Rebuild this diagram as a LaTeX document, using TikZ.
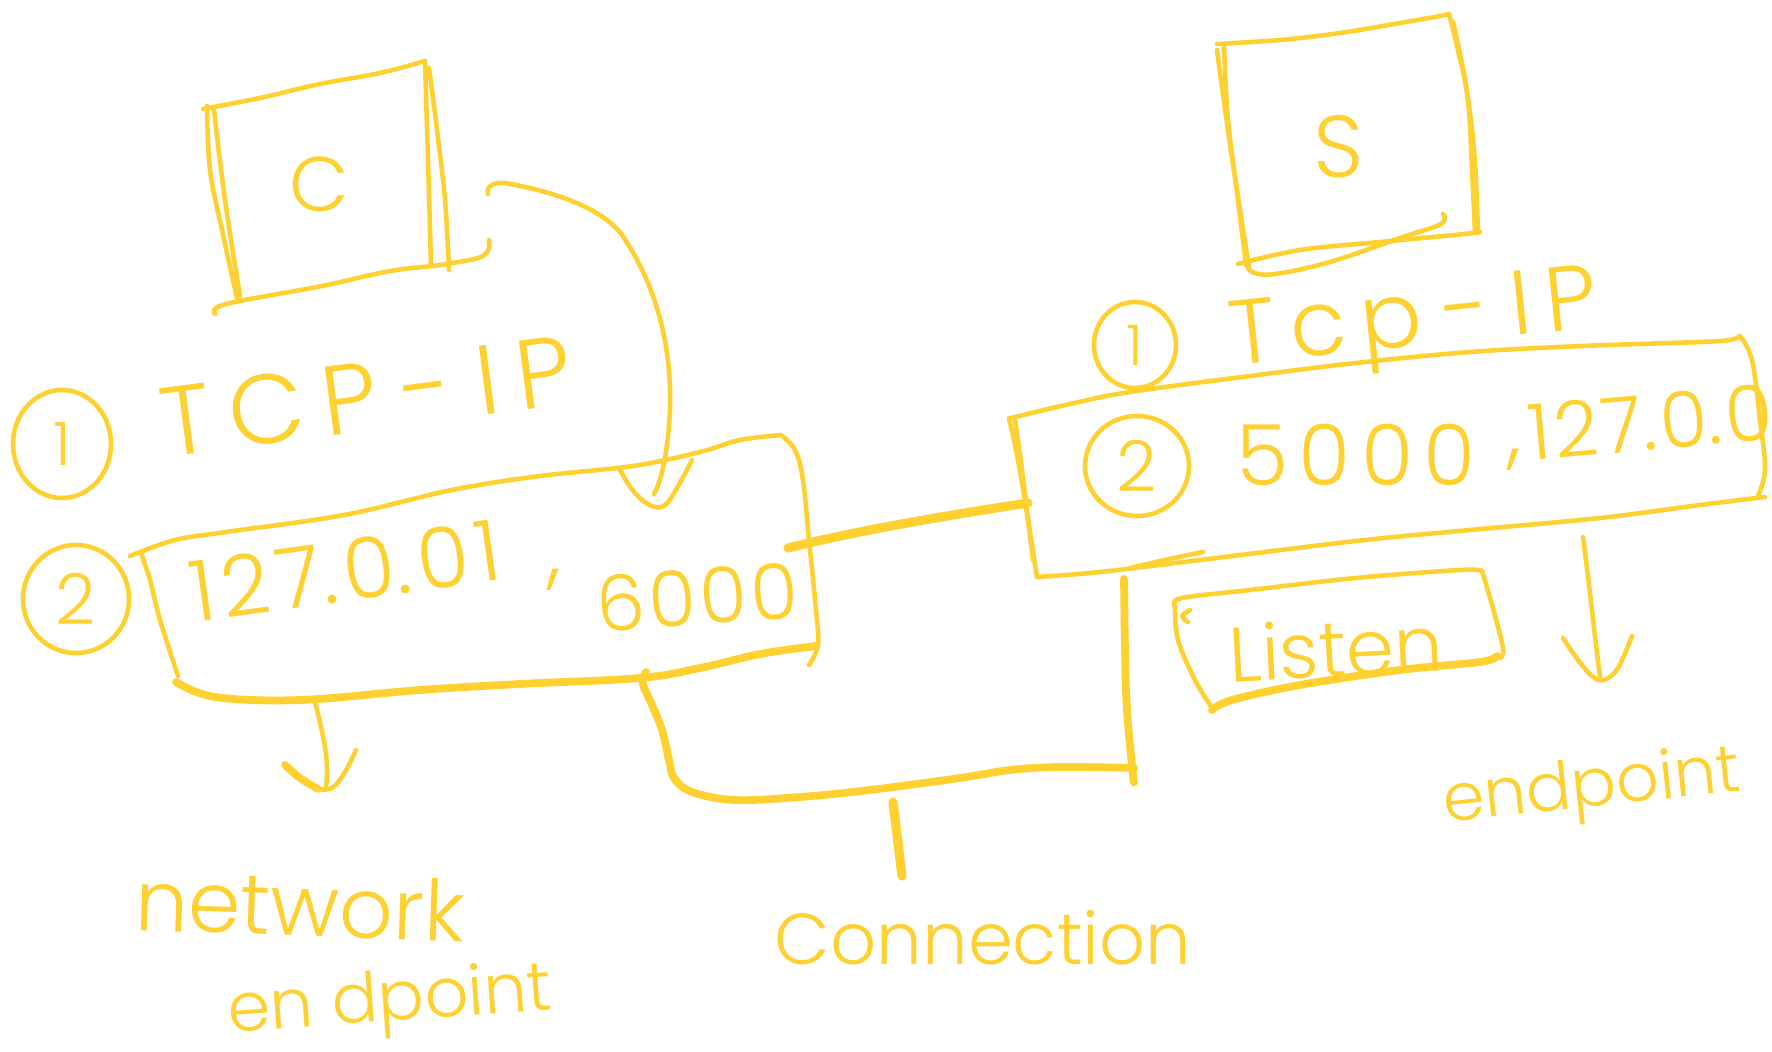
\documentclass[tikz,border=0pt]{standalone}
\usepackage{fontspec}
\IfFontExistsTF{Poppins Light}{\setmainfont{Poppins Light}}{%
  \IfFontExistsTF{FiraSans-Light.otf}{\setmainfont{FiraSans-Light.otf}}{\setmainfont{Lato}}}
\usetikzlibrary{shapes.geometric}
\definecolor{ink}{RGB}{254,208,48}
\newcommand{\penfs}[1]{\fontsize{#1pt}{#1pt}\selectfont}
\newcommand{\gapk}[1]{\kern#1pt}
\begin{document}
\begin{tikzpicture}[x=0.01cm, y=-0.01cm,
  pen/.style={draw=ink, line width=1.3pt, line cap=round, line join=round},
  heavy/.style={pen, line width=2.2pt},
  hand/.style={text=ink, inner sep=0pt, outer sep=0pt},
  numring/.style={pen, ellipse, inner sep=0pt, text=ink},
  sm/.style={smooth, tension=0.6}]
\fill[white] (0,0) rectangle (1772,1052);
\useasboundingbox (0,0) rectangle (1772,1052);

% ---------- client box ----------
\draw[pen] plot[sm] coordinates {(203,109) (260,98) (320,84) (380,73) (425,61)};
\draw[pen] plot[sm] coordinates {(207,106) (210,170) (222,230) (237,298)};
\draw[pen] plot[sm] coordinates {(214,110) (225,200) (240,296)};
\draw[pen] plot[sm] coordinates {(425,61) (428,160) (431,265)};
\draw[pen] plot[sm] coordinates {(429,68) (437,130) (445,200) (449,270)};
\draw[pen] plot[sm] coordinates {(215,314) (226,304) (322,286) (390,271) (440,265) (483,256) (489,240)};
\node[hand, font=\penfs{22}] (cLabel) at (319,184) {C};

% ---------- server box ----------
\draw[pen] plot[sm] coordinates {(1217,44) (1280,40) (1340,33) (1400,23) (1440,16) (1449,14)};
\draw[pen] plot[sm] coordinates {(1217,50) (1228,130) (1240,210) (1249,268)};
\draw[pen] plot[sm] coordinates {(1224,44) (1228,120) (1238,200) (1246,265)};
\draw[pen] plot[sm] coordinates {(1449,14) (1458,50) (1468,100) (1472,170) (1475,232)};
\draw[pen] plot[sm] coordinates {(1453,22) (1465,80) (1474,150) (1478,230)};
\draw[pen] plot[sm] coordinates {(1238,264) (1300,250) (1380,242) (1465,234) (1480,232)};
\draw[pen] plot[sm] coordinates {(1246,262) (1252,272) (1275,274) (1330,262) (1400,238) (1441,224) (1443,214)};
\node[hand, font=\penfs{25}] (sLabel) at (1339,147) {S};

% ---------- client socket ----------
\node[numring, minimum width=0.98cm, minimum height=1.08cm, font=\penfs{17}] (oneL) at (62,444) {1};
\node[hand, rotate=7.5, font=\penfs{28}] (tcpL) at (366,396) {T\gapk5C\gapk5P\gapk7 -\gapk7 I\gapk5P};
\node[numring, minimum width=1.06cm, minimum height=1.08cm, font=\penfs{20}] (twoL) at (76,599) {2};

\draw[pen] plot[sm] coordinates {(130,556) (175,540) (226,532) (344,515) (452,490) (540,476) (633,466) (700,452) (740,440) (781,435)};
\draw[pen] plot[sm] coordinates {(781,435) (795,450) (803,480) (809,540) (816,610) (818,645) (809,665)};
\draw[pen] plot[sm] coordinates {(141,553) (150,580) (160,620) (178,676)};
\draw[heavy] plot[sm] coordinates {(176,682) (215,697) (300,700) (420,690) (520,684) (640,678) (700,668) (760,654) (816,646)};
\node[hand, rotate=8, font=\penfs{24}] (ipL) at (345,571) {1\gapk2 2\gapk2 7.\gapk2 0.\gapk2 0\gapk2 1};
\node[hand, font=\penfs{23}] (commaL) at (554,580) {,};
\node[hand, rotate=4, font=\penfs{22}] (portL) at (697,597) {6\gapk1 0\gapk1 0\gapk1 0};

% ---------- server socket ----------
\node[numring, minimum width=0.82cm, minimum height=0.86cm, font=\penfs{16}] (oneR) at (1135,345) {1};
\node[hand, rotate=6, font=\penfs{26}] (tcpR) at (1414,326) {T\gapk4c\gapk4p\gapk6 -\gapk6 I\gapk4P};

\draw[pen] plot[sm] coordinates {(1011,418) (1070,404) (1130,392) (1250,376) (1356,363) (1470,352) (1582,346) (1700,342) (1730,340) (1740,336)};
\draw[pen] plot[sm] coordinates {(1740,336) (1752,360) (1760,420) (1765,470) (1757,498)};
\draw[pen] plot[sm] coordinates {(1009,418) (1018,460) (1028,520) (1037,577)};
\draw[pen] plot[sm] coordinates {(1015,420) (1022,470) (1033,560)};
\draw[pen] plot[sm] coordinates {(1037,577) (1100,572) (1200,560) (1356,541) (1470,530) (1600,518) (1700,505) (1765,497)};
\draw[pen] plot[sm] coordinates {(1130,568) (1165,560) (1203,552)};
\node[numring, minimum width=1.04cm, minimum height=1.0cm, font=\penfs{20}] (twoR) at (1137,466) {2};
\node[hand, font=\penfs{24}] (portR) at (1356,455) {5\gapk3 0\gapk3 0\gapk3 0};
\node[hand, font=\penfs{23}] (commaR) at (1514,460) {,};
\node[hand, rotate=5, font=\penfs{22}] (ipR) at (1650,422) {1\gapk1 2\gapk1 7.\gapk1 0.\gapk1 0};

% ---------- listen box ----------
\draw[pen] plot[sm] coordinates {(1175,606) (1182,598) (1250,590) (1356,578) (1460,570) (1482,571)};
\draw[pen] plot[sm] coordinates {(1482,571) (1492,605) (1503,648) (1500,658)};
\draw[heavy] plot[sm] coordinates {(1212,710) (1232,700) (1300,685) (1400,670) (1480,662) (1497,656)};
\draw[pen] plot[sm] coordinates {(1175,606) (1178,640) (1195,680) (1212,708)};
\draw[pen] plot[sm] coordinates {(1188,622) (1182,616) (1190,610)};
\node[hand, rotate=3, font=\penfs{22}] (listen) at (1336,648) {Listen};

% ---------- connectors ----------
% client box down into its socket
\coordinate (cOut) at (488,194);
\coordinate (cTip) at (654,494);
\draw[pen] (cOut) .. controls (486,186) and (494,182) .. (505,183)
  .. controls (545,190) and (600,205) .. (622,235)
  .. controls (656,285) and (672,345) .. (670,410)
  .. controls (668,450) and (662,480) .. (cTip);
\draw[pen] plot[sm] coordinates {(620,470) (634,492) (652,506) (668,502) (692,460)};

% the link between the two sockets
\coordinate (lSock) at (788,548);
\coordinate (rSock) at (1028,503);
\draw[heavy, line width=2.6pt] (lSock) .. controls (860,530) and (950,515) .. (rSock);

% bracket spanning the connection
\draw[heavy] plot[sm] coordinates {(646,672) (643,684) (652,705) (662,730) (669,760) (674,778) (692,792) (735,800) (800,797) (870,790) (960,778) (1010,770) (1060,767) (1134,768)};
\draw[heavy] plot[sm] coordinates {(1124,579) (1125,650) (1127,710) (1133,775) (1134,781)};
\coordinate (brMid) at (893,802);
\coordinate (brEnd) at (902,876);
\draw[heavy, line width=2.6pt] (brMid) -- (brEnd);

% endpoint arrows
\coordinate (lbBot) at (314,698);
\coordinate (lbTip) at (326,786);
\draw[pen] (lbBot) .. controls (322,730) and (330,760) .. (lbTip);
\draw[pen] plot[sm] coordinates {(356,750) (345,772) (332,788) (318,789)};
\draw[heavy] plot[sm] coordinates {(318,789) (300,778) (285,765)};

\coordinate (rbBot) at (1583,537);
\coordinate (rbTip) at (1600,676);
\draw[pen] (rbBot) .. controls (1590,590) and (1595,640) .. (rbTip);
\draw[pen] plot[sm] coordinates {(1563,638) (1578,660) (1592,676) (1604,680) (1618,668) (1632,636)};

% ---------- captions ----------
\node[hand, rotate=-2, font=\penfs{24}] (netw) at (300,905) {network};
\node[hand, rotate=4, font=\penfs{19.5}] (epL) at (390,1004) {en dpoint};
\node[hand, font=\penfs{20.5}] (conn) at (983,938) {Connection};
\node[hand, rotate=6, font=\penfs{19}] (epR) at (1592,790) {endpoint};
\end{tikzpicture}
\end{document}
